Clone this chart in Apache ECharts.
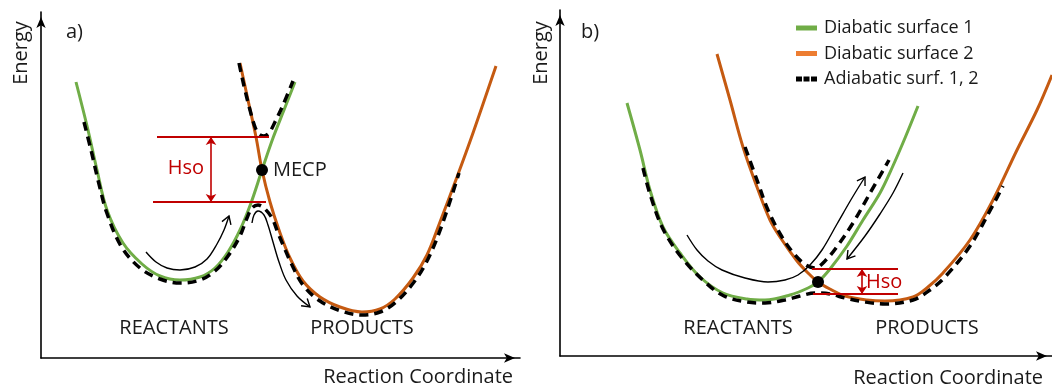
<!DOCTYPE html>
<html>
<head>
<meta charset="utf-8">
<script src="https://cdn.jsdelivr.net/npm/echarts@6/dist/echarts.min.js"></script>
<style>
  html, body { margin: 0; padding: 0; background: #fff; }
  #chart { width: 1052px; height: 385px; }
</style>
</head>
<body>
<div id="chart"></div>
<script>
// Points are [reaction coordinate, energy] in arbitrary units (one unit per pixel of plot area).

// ---- Panel a) : crossing high above both minima (MECP) ----
const surf1A = [[35,276],[47,228],[56,188],[66,148],[82,115],[101,94],[119,82],[139,78],[159,81],[174,90],[187,106],[199,128],[210,155],[221,188],[232,220],[243,248],[254,276]];
const surf2A = [[199,295],[207,258],[215,221],[221,188],[229,156],[238,128],[249,100],[262,77],[279,61],[299,51],[321,46],[339,49],[354,59],[372,80],[386,103],[399,136],[416,181],[432,225],[455,292]];
const adiaLowA = [[43,236],[50.5,206],[57.5,176],[65.5,146],[80,112],[99,90],[119,79],[139,75],[159,78],[174,87],[187,102],[199,122],[206,140],[211,150],[217,153],[223,150],[231,140],[237,125],[243,111],[250,95],[262,73],[279,57],[300,47],[321,43],[339,46],[355,56],[373,76],[387,99],[401,133],[418,185]];
const adiaUpA = [[198,295],[203,272],[209,248],[214,231],[218,224],[223,222],[228,225],[234,236],[242,253],[252,277]];
const pathInA = [[105,106],[115,96],[126,90],[139,88],[154,91],[166,99],[176,114],[183,128],[188,142]];
const pathOutA = [[211,135],[213,143],[217,147],[223,143],[227,133],[232,116],[238,96],[245,78],[256,62],[269,51]];
const mecpA = [221,188];
const hsoUpperA = [[116,221],[228,221]];
const hsoLowerA = [[112,156],[225,156]];
const hsoArrowA = [[170,221],[170,156]];

// ---- Panel b) : crossing close to the minima ----
const surf1B = [[67,253],[80,206],[90,166],[103,129],[120,103],[140,79],[163,63],[187,57],[205,56],[230,61],[248,68],[258,74],[270,87],[287,110],[303,136],[320,163],[332,188],[345,218],[358,250]];
const surf2B = [[157,302],[170,256],[183,209],[197,169],[210,136],[222,116],[237,95],[248,83],[258,74],[270,67],[285,60],[307,56],[325,55],[353,59],[368,69],[383,83],[410,116],[433,156],[457,206],[477,246],[492,281]];
const adiaLowB = [[83,188],[90.3,161],[103,127],[122,98],[145,74],[164,60],[187,54],[205,53],[225,56],[240,60],[255,63],[270,62],[285,58],[305,54],[325,52],[353,56],[370,66],[385,79],[410,110],[433,151],[443,170]];
const adiaUpB = [[185,209],[197,176],[208,146],[222,119],[235,101],[246,91],[255,88],[265,95],[276,108],[293,133],[309,161],[329,196]];
const pathForwardB = [[127,121],[137,106],[148,95],[162,86],[185,78],[208,74],[225,76],[238,81],[250,91],[262,106],[277,132],[292,158],[305,179]];
const pathBackB = [[343,183],[333,163],[320,142],[305,120],[287,97]];
const mecpB = [258,74];
const hsoUpperB = [[252,87],[338,87]];
const hsoLowerB = [[253,62],[338,62]];
const hsoArrowB = [[302,87],[302,62]];

// ---- Text ----
const seriesNames = ['Diabatic surface 1', 'Diabatic surface 2', 'Adiabatic surf. 1, 2'];
const panelTags = ['a)', 'b)'];
const wellLabels = ['REACTANTS', 'PRODUCTS'];
const axisTitles = ['Reaction Coordinate', 'Energy'];

const GREEN = '#70AD47', ORANGE = '#C55A11', ORANGE_KEY = '#ED7D31', RED = '#C00000', INK = '#1a1a1a';
const FONT = 'Open Sans';

// open chevron at the end of a path (axes are 1 unit per pixel in both directions)
function chevron(path, len, halfDeg) {
  const n = path.length;
  const [x1, y1] = path[n - 2], [x2, y2] = path[n - 1];
  const a = Math.atan2(y2 - y1, x2 - x1), h = halfDeg * Math.PI / 180;
  return [
    [x2 - len * Math.cos(a - h), y2 - len * Math.sin(a - h)],
    [x2, y2],
    [x2 - len * Math.cos(a + h), y2 - len * Math.sin(a + h)]
  ];
}

function axisPair(i, xMax, yMax) {
  const common = {
    type: 'value', gridIndex: i, min: 0,
    axisTick: { show: false }, axisLabel: { show: false }, splitLine: { show: false },
    axisLine: { show: true, symbol: ['none', 'arrow'], symbolSize: [7, 11], symbolOffset: [0, -5],
                lineStyle: { color: '#000', width: 1.6 } }
  };
  return {
    x: Object.assign({}, common, { max: xMax }),
    y: Object.assign({}, common, { max: yMax })
  };
}

const axA = axisPair(0, 479, 346);
const axB = axisPair(1, 492, 346);

function curve(name, data, i, color, width, dashed, z) {
  return {
    type: 'line', name, data, xAxisIndex: i, yAxisIndex: i,
    smooth: 0.35, symbol: 'none', silent: true, z,
    lineStyle: { color, width, type: dashed ? [9, 6] : 'solid', cap: 'butt' },
    itemStyle: { color }
  };
}
function thin(data, i) {
  return {
    type: 'line', data, xAxisIndex: i, yAxisIndex: i, smooth: 0.35, symbol: 'none', silent: true, z: 5,
    lineStyle: { color: '#000', width: 1.4 }
  };
}
function chev(path, i) {
  return {
    type: 'line', data: chevron(path, 9, 32), xAxisIndex: i, yAxisIndex: i, symbol: 'none', silent: true, z: 5,
    lineStyle: { color: '#000', width: 1.4, join: 'miter' }
  };
}
function redSegs(segs, i) {
  return {
    type: 'lines', coordinateSystem: 'cartesian2d', xAxisIndex: i, yAxisIndex: i, silent: true, z: 6,
    symbol: 'none', lineStyle: { color: RED, width: 1.8, opacity: 1 },
    data: segs.map(s => ({ coords: s }))
  };
}
function redArrow(seg, i) {
  return {
    type: 'lines', coordinateSystem: 'cartesian2d', xAxisIndex: i, yAxisIndex: i, silent: true, z: 6,
    symbol: ['arrow', 'arrow'], symbolSize: 8, lineStyle: { color: RED, width: 1.6, opacity: 1 },
    data: [{ coords: seg }]
  };
}
function dot(point, i, label) {
  return {
    type: 'scatter', data: [point], xAxisIndex: i, yAxisIndex: i, symbolSize: 12, silent: true, z: 7,
    itemStyle: { color: '#000', opacity: 1 },
    label: label ? { show: true, position: 'right', distance: 5, formatter: label,
                     fontFamily: FONT, fontSize: 20, color: INK, opacity: 1, textBorderWidth: 0 }
                 : { show: false }
  };
}

const series = [
  curve(seriesNames[0], surf1A, 0, GREEN, 3, false, 2),
  curve(seriesNames[1], surf2A, 0, ORANGE, 3, false, 2),
  curve(seriesNames[2], adiaLowA, 0, '#000', 3.5, true, 3),
  curve(seriesNames[2], adiaUpA, 0, '#000', 3.5, true, 3),
  thin(pathInA, 0), chev(pathInA, 0),
  thin(pathOutA, 0), chev(pathOutA, 0),
  redSegs([hsoUpperA, hsoLowerA], 0),
  redArrow(hsoArrowA, 0),
  dot(mecpA, 0, 'MECP'),

  curve(seriesNames[0], surf1B, 1, GREEN, 3, false, 2),
  curve(seriesNames[1], surf2B, 1, ORANGE, 3, false, 2),
  curve(seriesNames[2], adiaLowB, 1, '#000', 3.5, true, 3),
  curve(seriesNames[2], adiaUpB, 1, '#000', 3.5, true, 3),
  thin(pathForwardB, 1), chev(pathForwardB, 1),
  thin(pathBackB, 1), chev(pathBackB, 1),
  redSegs([hsoUpperB, hsoLowerB], 1),
  redArrow(hsoArrowB, 1),
  dot(mecpB, 1, null)
];

function txt(text, x, y, opts) {
  return {
    type: 'text', x, y, silent: true, z: 10,
    style: Object.assign({ text, fontFamily: FONT, fontSize: 20, fill: INK, align: 'left', verticalAlign: 'middle' }, opts || {})
  };
}

const graphics = [
  txt(axisTitles[1], 21, 53, { align: 'center' }),
  txt(axisTitles[1], 541, 53, { align: 'center' }),
  txt(panelTags[0], 66, 32),
  txt(panelTags[1], 581, 32),
  txt(wellLabels[0], 174, 328, { align: 'center' }),
  txt(wellLabels[1], 362, 328, { align: 'center' }),
  txt(wellLabels[0], 738, 328, { align: 'center' }),
  txt(wellLabels[1], 927, 328, { align: 'center' }),
  txt(axisTitles[0], 513, 377, { align: 'right' }),
  txt(axisTitles[0], 1043, 378, { align: 'right' }),
  txt('Hso', 186, 168, { align: 'center', fill: RED }),
  txt('Hso', 866, 282, { fill: RED })
];
// vertical axis titles read bottom to top
graphics[0].rotation = Math.PI / 2;
graphics[1].rotation = Math.PI / 2;

const chart = echarts.init(document.getElementById('chart'), null, { renderer: 'canvas' });
chart.setOption({
  animation: false,
  backgroundColor: '#fff',
  grid: [
    { left: 41, top: 12, width: 479, height: 346 },
    { left: 560, top: 10, width: 492, height: 346 }
  ],
  xAxis: [axA.x, axB.x],
  yAxis: [axA.y, axB.y],
  legend: {
    left: 791, top: 14, orient: 'vertical', itemGap: 7.5, itemWidth: 21, itemHeight: 5,
    selectedMode: false,
    textStyle: { fontFamily: FONT, fontSize: 18, color: INK, padding: [0, 0, 0, 2] },
    itemStyle: { borderWidth: 0 },
    data: [
      { name: seriesNames[0], icon: 'rect', itemStyle: { color: GREEN } },
      { name: seriesNames[1], icon: 'rect', itemStyle: { color: ORANGE_KEY } },
      { name: seriesNames[2], icon: 'path://M0 0h6v5h-6zM7.5 0h6v5h-6zM15 0h6v5h-6z', itemStyle: { color: '#000' } }
    ]
  },
  graphic: graphics,
  series
});
</script>
</body>
</html>
